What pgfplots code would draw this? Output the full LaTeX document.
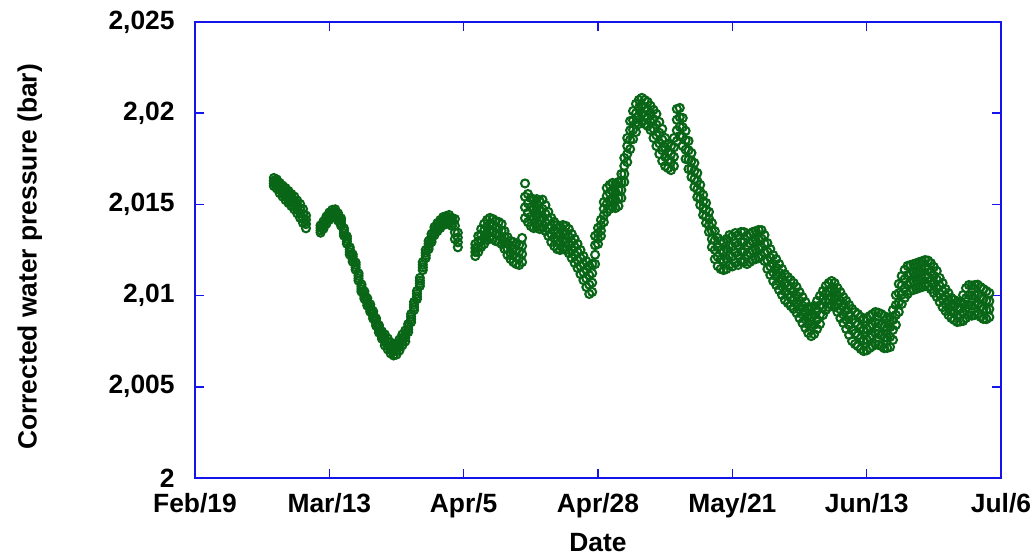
\documentclass[border=0pt]{standalone}
\usepackage{fontspec}
\setmainfont{Liberation Sans}
\usepackage{pgfplots}
\usepackage{pgfplotstable}
\pgfplotsset{compat=1.18}

\definecolor{pgreen}{RGB}{8,102,22}
\definecolor{frameblue}{RGB}{20,20,235}
\newcommand\lblfont{\fontsize{13.2}{15}\selectfont\bfseries}

% day (0 = Feb/19) and four readings across the width of the scatter band
\pgfplotstableread{
d a b c e
13.5 2.01601 2.01616 2.01630 2.01645
14 2.01587 2.01604 2.01620 2.01637
14.5 2.01562 2.01581 2.01599 2.01618
15 2.01543 2.01563 2.01583 2.01603
15.5 2.01524 2.01546 2.01568 2.01590
16 2.01508 2.01530 2.01552 2.01574
16.5 2.01491 2.01513 2.01535 2.01557
17 2.01473 2.01496 2.01520 2.01543
17.5 2.01451 2.01474 2.01498 2.01521
18 2.01426 2.01451 2.01477 2.01502
18.5 2.01398 2.01423 2.01449 2.01474
19 2.01369 2.01392 2.01416 2.01439
21.5 2.01345 2.01358 2.01372 2.01385
22 2.01367 2.01380 2.01394 2.01407
22.5 2.01394 2.01407 2.01421 2.01434
23 2.01416 2.01429 2.01443 2.01456
23.5 2.01430 2.01443 2.01457 2.01470
24 2.01433 2.01446 2.01460 2.01473
24.5 2.01411 2.01424 2.01438 2.01451
25 2.01384 2.01397 2.01411 2.01424
25.5 2.01329 2.01342 2.01356 2.01369
26 2.01285 2.01298 2.01312 2.01325
26.5 2.01225 2.01238 2.01252 2.01265
27 2.01186 2.01199 2.01213 2.01226
27.5 2.01142 2.01155 2.01169 2.01182
28 2.01082 2.01095 2.01109 2.01122
28.5 2.01022 2.01035 2.01049 2.01062
29 2.00983 2.00996 2.01010 2.01023
29.5 2.00945 2.00958 2.00972 2.00985
30 2.00912 2.00925 2.00939 2.00952
30.5 2.00874 2.00887 2.00901 2.00914
31 2.00835 2.00848 2.00862 2.00875
31.5 2.00797 2.00810 2.00824 2.00837
32 2.00764 2.00777 2.00791 2.00804
32.5 2.00727 2.00747 2.00767 2.00787
33 2.00705 2.00725 2.00745 2.00765
33.5 2.00683 2.00703 2.00723 2.00743
34 2.00672 2.00692 2.00712 2.00732
34.5 2.00677 2.00697 2.00717 2.00737
35 2.00699 2.00719 2.00739 2.00759
35.5 2.00727 2.00747 2.00767 2.00787
36 2.00749 2.00769 2.00789 2.00809
36.5 2.00800 2.00815 2.00829 2.00844
37 2.00855 2.00870 2.00884 2.00899
37.5 2.00921 2.00936 2.00950 2.00965
38 2.00981 2.00996 2.01010 2.01025
38.5 2.01053 2.01068 2.01082 2.01097
39 2.01140 2.01155 2.01169 2.01184
39.5 2.01206 2.01221 2.01235 2.01250
40 2.01255 2.01270 2.01284 2.01299
40.5 2.01294 2.01309 2.01323 2.01338
41 2.01332 2.01347 2.01361 2.01376
41.5 2.01354 2.01369 2.01383 2.01398
42 2.01371 2.01386 2.01400 2.01415
42.5 2.01387 2.01402 2.01416 2.01431
43 2.01392 2.01407 2.01421 2.01436
43.5 2.01398 2.01413 2.01427 2.01442
44 2.01382 2.01397 2.01411 2.01426
44.5 2.01310 2.01347 2.01383 2.01420
45 2.01265 2.01292 2.01318 2.01345
48 2.01217 2.01239 2.01261 2.01283
48.5 2.01239 2.01268 2.01298 2.01327
49 2.01267 2.01300 2.01332 2.01365
49.5 2.01283 2.01320 2.01356 2.01393
50 2.01305 2.01342 2.01378 2.01415
50.5 2.01316 2.01353 2.01389 2.01426
51 2.01310 2.01347 2.01383 2.01420
51.5 2.01299 2.01336 2.01372 2.01409
52 2.01294 2.01331 2.01367 2.01404
52.5 2.01283 2.01320 2.01356 2.01393
53 2.01256 2.01289 2.01321 2.01354
53.5 2.01223 2.01256 2.01288 2.01321
54 2.01201 2.01234 2.01266 2.01299
54.5 2.01184 2.01221 2.01257 2.01294
55 2.01173 2.01210 2.01246 2.01283
55.5 2.01168 2.01205 2.01241 2.01278
56 2.01184 2.01228 2.01272 2.01316
56.5 2.01425 2.01484 2.01542 2.01615
57 2.01403 2.01454 2.01506 2.01557
57.5 2.01381 2.01432 2.01484 2.01535
58 2.01370 2.01421 2.01473 2.01524
58.5 2.01375 2.01426 2.01478 2.01529
59 2.01365 2.01416 2.01468 2.01519
59.5 2.01372 2.01423 2.01475 2.01526
60 2.01354 2.01401 2.01449 2.01496
60.5 2.01327 2.01371 2.01415 2.01459
61 2.01294 2.01338 2.01382 2.01426
61.5 2.01272 2.01316 2.01360 2.01404
62 2.01255 2.01299 2.01343 2.01387
62.5 2.01250 2.01294 2.01338 2.01382
63 2.01255 2.01299 2.01343 2.01387
63.5 2.01250 2.01294 2.01338 2.01382
64 2.01233 2.01277 2.01321 2.01365
64.5 2.01206 2.01250 2.01294 2.01338
65 2.01179 2.01223 2.01267 2.01311
65.5 2.01151 2.01195 2.01239 2.01283
66 2.01118 2.01162 2.01206 2.01250
66.5 2.01085 2.01129 2.01173 2.01217
67 2.01047 2.01094 2.01142 2.01189
67.5 2.01009 2.01060 2.01112 2.01163
68 2.01020 2.01071 2.01123 2.01174
68.5 2.01173 2.01224 2.01276 2.01327
69 2.01283 2.01312 2.01342 2.01371
69.5 2.01327 2.01356 2.01386 2.01415
70 2.01403 2.01440 2.01476 2.01513
70.5 2.01458 2.01502 2.01546 2.01590
71 2.01475 2.01519 2.01563 2.01607
71.5 2.01486 2.01530 2.01574 2.01618
72 2.01480 2.01524 2.01568 2.01612
72.5 2.01491 2.01535 2.01579 2.01623
73 2.01535 2.01579 2.01623 2.01667
73.5 2.01623 2.01667 2.01711 2.01755
74 2.01732 2.01776 2.01820 2.01864
74.5 2.01803 2.01854 2.01906 2.01957
75 2.01858 2.01909 2.01961 2.02012
75.5 2.01897 2.01948 2.02000 2.02051
76 2.01941 2.01985 2.02029 2.02073
76.5 2.01952 2.01996 2.02040 2.02084
77 2.01941 2.01985 2.02029 2.02073
77.5 2.01930 2.01974 2.02018 2.02062
78 2.01908 2.01952 2.01996 2.02040
78.5 2.01864 2.01915 2.01967 2.02018
79 2.01820 2.01879 2.01937 2.01996
79.5 2.01776 2.01835 2.01893 2.01952
80 2.01738 2.01797 2.01855 2.01914
80.5 2.01710 2.01761 2.01813 2.01864
81 2.01699 2.01743 2.01787 2.01831
81.5 2.01688 2.01732 2.01776 2.01820
82 2.01710 2.01761 2.01813 2.01864
82.5 2.01847 2.01906 2.01964 2.02023
83 2.01875 2.01926 2.01978 2.02029
83.5 2.01820 2.01871 2.01923 2.01974
84 2.01749 2.01800 2.01852 2.01903
84.5 2.01694 2.01745 2.01797 2.01848
85 2.01650 2.01694 2.01738 2.01782
85.5 2.01595 2.01639 2.01683 2.01727
86 2.01540 2.01584 2.01628 2.01672
86.5 2.01497 2.01534 2.01570 2.01607
87 2.01442 2.01479 2.01515 2.01552
87.5 2.01398 2.01435 2.01471 2.01508
88 2.01349 2.01386 2.01422 2.01459
88.5 2.01266 2.01310 2.01354 2.01398
89 2.01200 2.01251 2.01303 2.01354
89.5 2.01162 2.01213 2.01265 2.01316
90 2.01146 2.01197 2.01249 2.01300
90.5 2.01140 2.01191 2.01243 2.01294
91 2.01146 2.01201 2.01255 2.01310
91.5 2.01168 2.01223 2.01277 2.01332
92 2.01160 2.01215 2.01270 2.01325
92.5 2.01179 2.01234 2.01288 2.01343
93 2.01168 2.01223 2.01277 2.01332
93.5 2.01185 2.01240 2.01294 2.01349
94 2.01184 2.01239 2.01293 2.01348
94.5 2.01173 2.01224 2.01276 2.01327
95 2.01184 2.01235 2.01287 2.01338
95.5 2.01195 2.01246 2.01298 2.01349
96 2.01200 2.01251 2.01303 2.01354
96.5 2.01206 2.01257 2.01309 2.01360
97 2.01217 2.01264 2.01312 2.01359
97.5 2.01190 2.01237 2.01285 2.01332
98 2.01146 2.01193 2.01241 2.01288
98.5 2.01113 2.01160 2.01208 2.01255
99 2.01080 2.01127 2.01175 2.01222
99.5 2.01058 2.01105 2.01153 2.01200
100 2.01031 2.01078 2.01126 2.01173
100.5 2.01004 2.01051 2.01099 2.01146
101 2.00976 2.01023 2.01071 2.01118
101.5 2.00960 2.01007 2.01055 2.01102
102 2.00943 2.00990 2.01038 2.01085
102.5 2.00927 2.00974 2.01022 2.01069
103 2.00905 2.00952 2.01000 2.01047
103.5 2.00877 2.00924 2.00972 2.01019
104 2.00850 2.00897 2.00945 2.00992
104.5 2.00823 2.00870 2.00918 2.00965
105 2.00795 2.00842 2.00890 2.00937
105.5 2.00778 2.00829 2.00881 2.00932
106 2.00789 2.00840 2.00892 2.00943
106.5 2.00817 2.00868 2.00920 2.00971
107 2.00844 2.00895 2.00947 2.00998
107.5 2.00893 2.00937 2.00981 2.01025
108 2.00921 2.00965 2.01009 2.01053
108.5 2.00937 2.00981 2.01025 2.01069
109 2.00948 2.00992 2.01036 2.01080
109.5 2.00937 2.00981 2.01025 2.01069
110 2.00910 2.00954 2.00998 2.01042
110.5 2.00877 2.00924 2.00972 2.01019
111 2.00850 2.00897 2.00945 2.00992
111.5 2.00817 2.00868 2.00920 2.00971
112 2.00784 2.00839 2.00893 2.00948
112.5 2.00751 2.00810 2.00868 2.00927
113 2.00734 2.00793 2.00851 2.00910
113.5 2.00723 2.00782 2.00840 2.00899
114 2.00707 2.00766 2.00824 2.00883
114.5 2.00696 2.00755 2.00813 2.00872
115 2.00700 2.00760 2.00818 2.00876
115.5 2.00712 2.00771 2.00829 2.00888
116 2.00723 2.00782 2.00840 2.00899
116.5 2.00734 2.00793 2.00851 2.00910
117 2.00730 2.00790 2.00848 2.00906
117.5 2.00723 2.00782 2.00840 2.00899
118 2.00712 2.00771 2.00829 2.00888
118.5 2.00713 2.00768 2.00822 2.00877
119 2.00718 2.00773 2.00827 2.00882
119.5 2.00757 2.00812 2.00866 2.00921
120 2.00839 2.00894 2.00948 2.01003
120.5 2.00910 2.00961 2.01013 2.01064
121 2.00954 2.01005 2.01057 2.01108
121.5 2.00987 2.01038 2.01090 2.01141
122 2.01009 2.01060 2.01112 2.01163
122.5 2.01026 2.01073 2.01121 2.01168
123 2.01031 2.01078 2.01126 2.01173
123.5 2.01036 2.01083 2.01131 2.01178
124 2.01042 2.01089 2.01137 2.01184
124.5 2.01047 2.01094 2.01142 2.01189
125 2.01053 2.01100 2.01148 2.01195
125.5 2.01050 2.01098 2.01145 2.01192
126 2.01036 2.01083 2.01131 2.01178
126.5 2.01015 2.01062 2.01110 2.01157
127 2.00993 2.01040 2.01088 2.01135
127.5 2.00965 2.01009 2.01053 2.01097
128 2.00937 2.00981 2.01025 2.01069
128.5 2.00916 2.00956 2.00996 2.01036
129 2.00894 2.00934 2.00974 2.01014
129.5 2.00877 2.00914 2.00950 2.00987
130 2.00866 2.00903 2.00939 2.00976
130.5 2.00855 2.00892 2.00928 2.00965
131 2.00858 2.00895 2.00931 2.00968
131.5 2.00861 2.00908 2.00956 2.01003
132 2.00877 2.00932 2.00986 2.01041
132.5 2.00894 2.00949 2.01003 2.01058
133 2.00890 2.00945 2.01000 2.01055
133.5 2.00894 2.00949 2.01003 2.01058
134 2.00898 2.00952 2.01006 2.01060
134.5 2.00883 2.00938 2.00992 2.01047
135 2.00872 2.00927 2.00981 2.01036
135.5 2.00871 2.00922 2.00974 2.01025
136 2.00882 2.00926 2.00970 2.01014
}\pressure

\begin{document}
\begin{tikzpicture}
\begin{axis}[
    scale only axis,
    width=403pt, height=228pt,
    xmin=0, xmax=138,
    ymin=2, ymax=2.025,
    xtick={0,23,46,69,92,115,138},
    xticklabels={Feb/19,Mar/13,Apr/5,Apr/28,May/21,Jun/13,Jul/6},
    ytick={2,2.005,2.01,2.015,2.02,2.025},
    yticklabels={2,{2,005},{2,01},{2,015},{2,02},{2,025}},
    tick align=inside,
    major tick length=4.5pt,
    axis line style={frameblue, line width=0.8pt},
    every tick/.style={frameblue, line width=0.8pt},
    tick label style={font=\lblfont, black},
    xticklabel style={anchor=base, inner sep=0pt, yshift=-17pt},
    yticklabel style={anchor=east, inner sep=0pt, xshift=-10pt},
    xlabel={Date},
    ylabel={Corrected water pressure (bar)},
    label style={font=\lblfont},
    xlabel style={at={(axis description cs:0.5,-0.1425)}, anchor=center},
    ylabel style={at={(axis description cs:-0.205,0.485)}, anchor=center},
    clip=false,
]
\pgfplotsinvokeforeach{a,b,c,e}{
  \addplot[only marks, mark=o, mark size=2pt,
           mark options={draw=pgreen, line width=1.05pt}]
    table[x=d, y=#1] {\pressure};
}
\end{axis}
\pgfresetboundingbox
\path[use as bounding box]
  ([shift={(-97.5pt,-40pt)}]current axis.south west)
  rectangle ([shift={(17pt,11pt)}]current axis.north east);
\end{tikzpicture}
\end{document}
